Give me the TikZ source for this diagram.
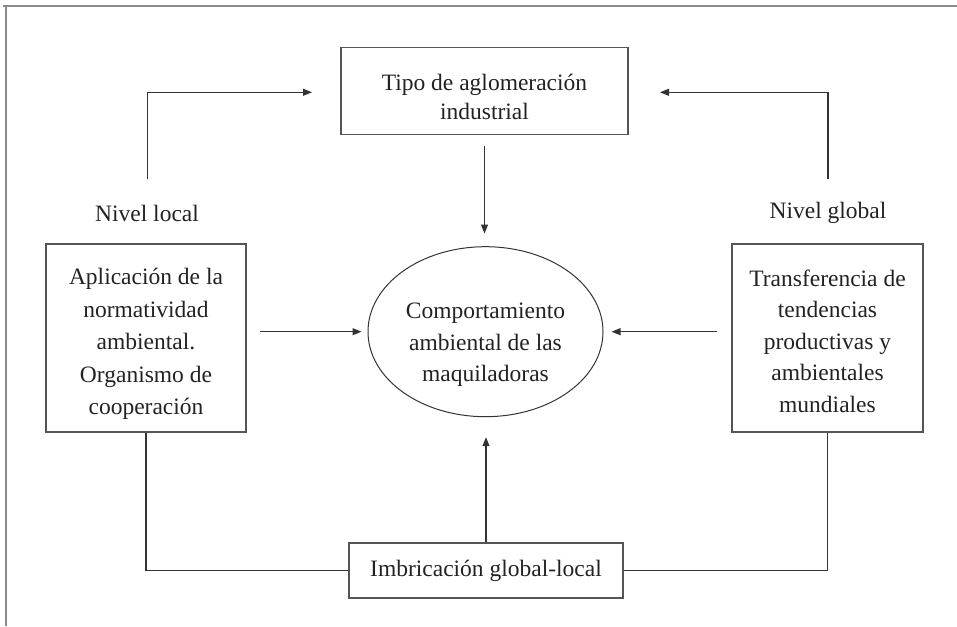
\documentclass[tikz,border=0pt]{standalone}
\usepackage{fontspec}
\setmainfont{Liberation Serif}
\usetikzlibrary{arrows.meta,shapes.geometric}
\definecolor{boxgray}{HTML}{555555}
\definecolor{linegray}{HTML}{333333}
\definecolor{textgray}{HTML}{222222}
\definecolor{framegray}{HTML}{8A8A8A}
\begin{document}
\begin{tikzpicture}[x=1pt,y=-1pt,
  txt/.style={inner sep=0pt, align=center, text=textgray, font=\fontsize{23.5}{31.5}\selectfont},
  box/.style={draw=boxgray, line width=1.1pt, inner sep=0pt},
  conn/.style={draw=linegray, line width=1.1pt},
  arr/.style={conn, -{Triangle[length=9pt,width=7pt]}}]
\useasboundingbox (0,0) rectangle (957,626);
% frame
\draw[framegray, line width=2pt] (3,6) -- (957,6);
\draw[framegray, line width=2pt] (5.5,6) -- (5.5,626);
% boxes
\node[box, minimum width=287pt, minimum height=87pt] (top) at (484.5,90.7) {};
\node[draw=linegray, ellipse, minimum width=235pt, minimum height=170pt, line width=1pt, inner sep=0pt] (ell) at (485.5,331.7) {};
\node[box, minimum width=200pt, minimum height=188pt] (left) at (146,338) {};
\node[box, minimum width=191pt, minimum height=188pt] (right) at (827.5,338) {};
\node[box, minimum width=274pt, minimum height=55pt] (bot) at (486,570.5) {};
% texts
\node[txt, font=\fontsize{23.5}{29.5}\selectfont] (toptxt) at (484.5,97) {Tipo de aglomeración\\industrial};
\node[txt] (elltxt) at (485.5,345) {Comportamiento\\ambiental de las\\maquiladoras};
\node[txt, font=\fontsize{23.5}{32.5}\selectfont] (lefttxt) at (146,344) {Aplicación de la\\normatividad\\ambiental.\\Organismo de\\cooperación};
\node[txt] (righttxt) at (827.5,341) {Transferencia de\\tendencias\\productivas y\\ambientales\\mundiales};
\node[txt] (bottxt) at (486,571) {Imbricación global-local};
\node[txt] (loclbl) at (147,213) {Nivel local};
\node[txt] (glolbl) at (828,213) {Nivel global};
% coordinates
\coordinate (ls) at (147.7,179);
\coordinate (le) at (312,92.3);
\coordinate (rs) at (828,179);
\coordinate (re) at (660,92.3);
% connectors
\draw[arr] (ls) |- (le);
\draw[arr] (rs) |- (re);
\draw[arr, shorten <=11pt, shorten >=12.7pt] (top.south) -- (top.south |- ell.north);
\draw[arr, shorten <=13pt, shorten >=6pt] (left.east |- ell.west) -- (ell.west);
\draw[arr, shorten <=14pt, shorten >=8pt] (right.west |- ell.east) -- (ell.east);
\draw[arr, shorten >=20pt] (bot.north) -- (bot.north |- ell.south);
\draw[conn] (left.south) |- (bot.west);
\draw[conn] (right.south) |- (bot.east);
\end{tikzpicture}
\end{document}
